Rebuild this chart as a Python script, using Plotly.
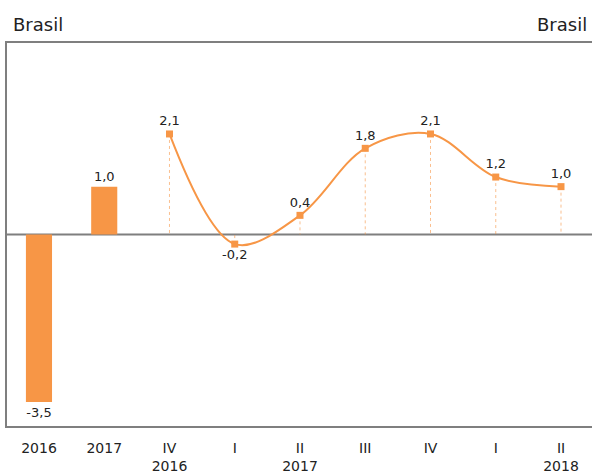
import plotly.graph_objects as go

# annual figures (bars) and quarterly figures (line)
annual_labels = ["2016", "2017"]
annual_values = [-3.5, 1.0]

quarter_labels = ["IV<br>2016", "I", "II<br>2017", "III", "IV", "I", "II<br>2018"]
quarter_values = [2.1, -0.2, 0.4, 1.8, 2.1, 1.2, 1.0]

orange = "#F79646"
grey = "#7F7F7F"
font = "Verdana, DejaVu Sans, sans-serif"

fmt = lambda v: f"{v:.1f}".replace(".", ",")

ticktext = annual_labels + quarter_labels
xa = list(range(len(annual_values)))
xq = list(range(len(annual_values), len(ticktext)))

fig = go.Figure()

fig.add_trace(go.Bar(
    x=xa, y=annual_values, width=0.4,
    marker=dict(color=orange, line=dict(width=0)),
    text=[fmt(v) for v in annual_values], textposition="outside",
    textfont=dict(size=13, color="#222"), cliponaxis=False,
))

# dotted drop lines from each quarterly point down to zero
drop_x, drop_y = [], []
for x, v in zip(xq, quarter_values):
    drop_x += [x, x, None]
    drop_y += [v, 0, None]
fig.add_trace(go.Scatter(
    x=drop_x, y=drop_y, mode="lines",
    line=dict(color=orange, width=1, dash="dot"), opacity=0.6,
))

fig.add_trace(go.Scatter(
    x=xq, y=quarter_values, mode="lines+markers+text",
    line=dict(color=orange, width=2, shape="spline", smoothing=1.0),
    marker=dict(symbol="square", size=7, color=orange),
    text=[fmt(v) for v in quarter_values],
    textposition=["top center" if v >= 0 else "bottom center" for v in quarter_values],
    textfont=dict(size=13, color="#222"), cliponaxis=False,
))

fig.add_hline(y=0, line=dict(color=grey, width=2), layer="below")

fig.update_layout(
    width=592, height=475,
    margin=dict(l=7, r=0, t=43, b=49),
    plot_bgcolor="white", paper_bgcolor="white",
    showlegend=False,
    font=dict(family=font, color="#222"),
    annotations=[
        dict(text="Brasil", x=0, y=1, xref="paper", yref="paper",
             xanchor="left", yanchor="bottom", xshift=4, yshift=6,
             showarrow=False, font=dict(size=18, family=font)),
        dict(text="Brasil", x=1, y=1, xref="paper", yref="paper",
             xanchor="right", yanchor="bottom", xshift=-3, yshift=6,
             showarrow=False, font=dict(size=18, family=font)),
    ],
)
fig.update_xaxes(
    range=[-0.49, len(ticktext) - 0.525],
    tickvals=list(range(len(ticktext))), ticktext=ticktext,
    tickfont=dict(size=14), ticks="", showgrid=False, zeroline=False,
    showline=True, linecolor=grey, linewidth=1.5, mirror=True, ticklabelstandoff=8,
)
fig.update_yaxes(
    range=[-4, 4], showticklabels=False, ticks="", showgrid=False, zeroline=False,
    showline=True, linecolor=grey, linewidth=1.5, mirror=False,
)

# drop the page's default body margin so the figure fills the window
fig.write_html(
    "out.html",
    config={"displayModeBar": False},
    post_script="document.body.style.margin='0';document.body.style.overflow='hidden';",
)
